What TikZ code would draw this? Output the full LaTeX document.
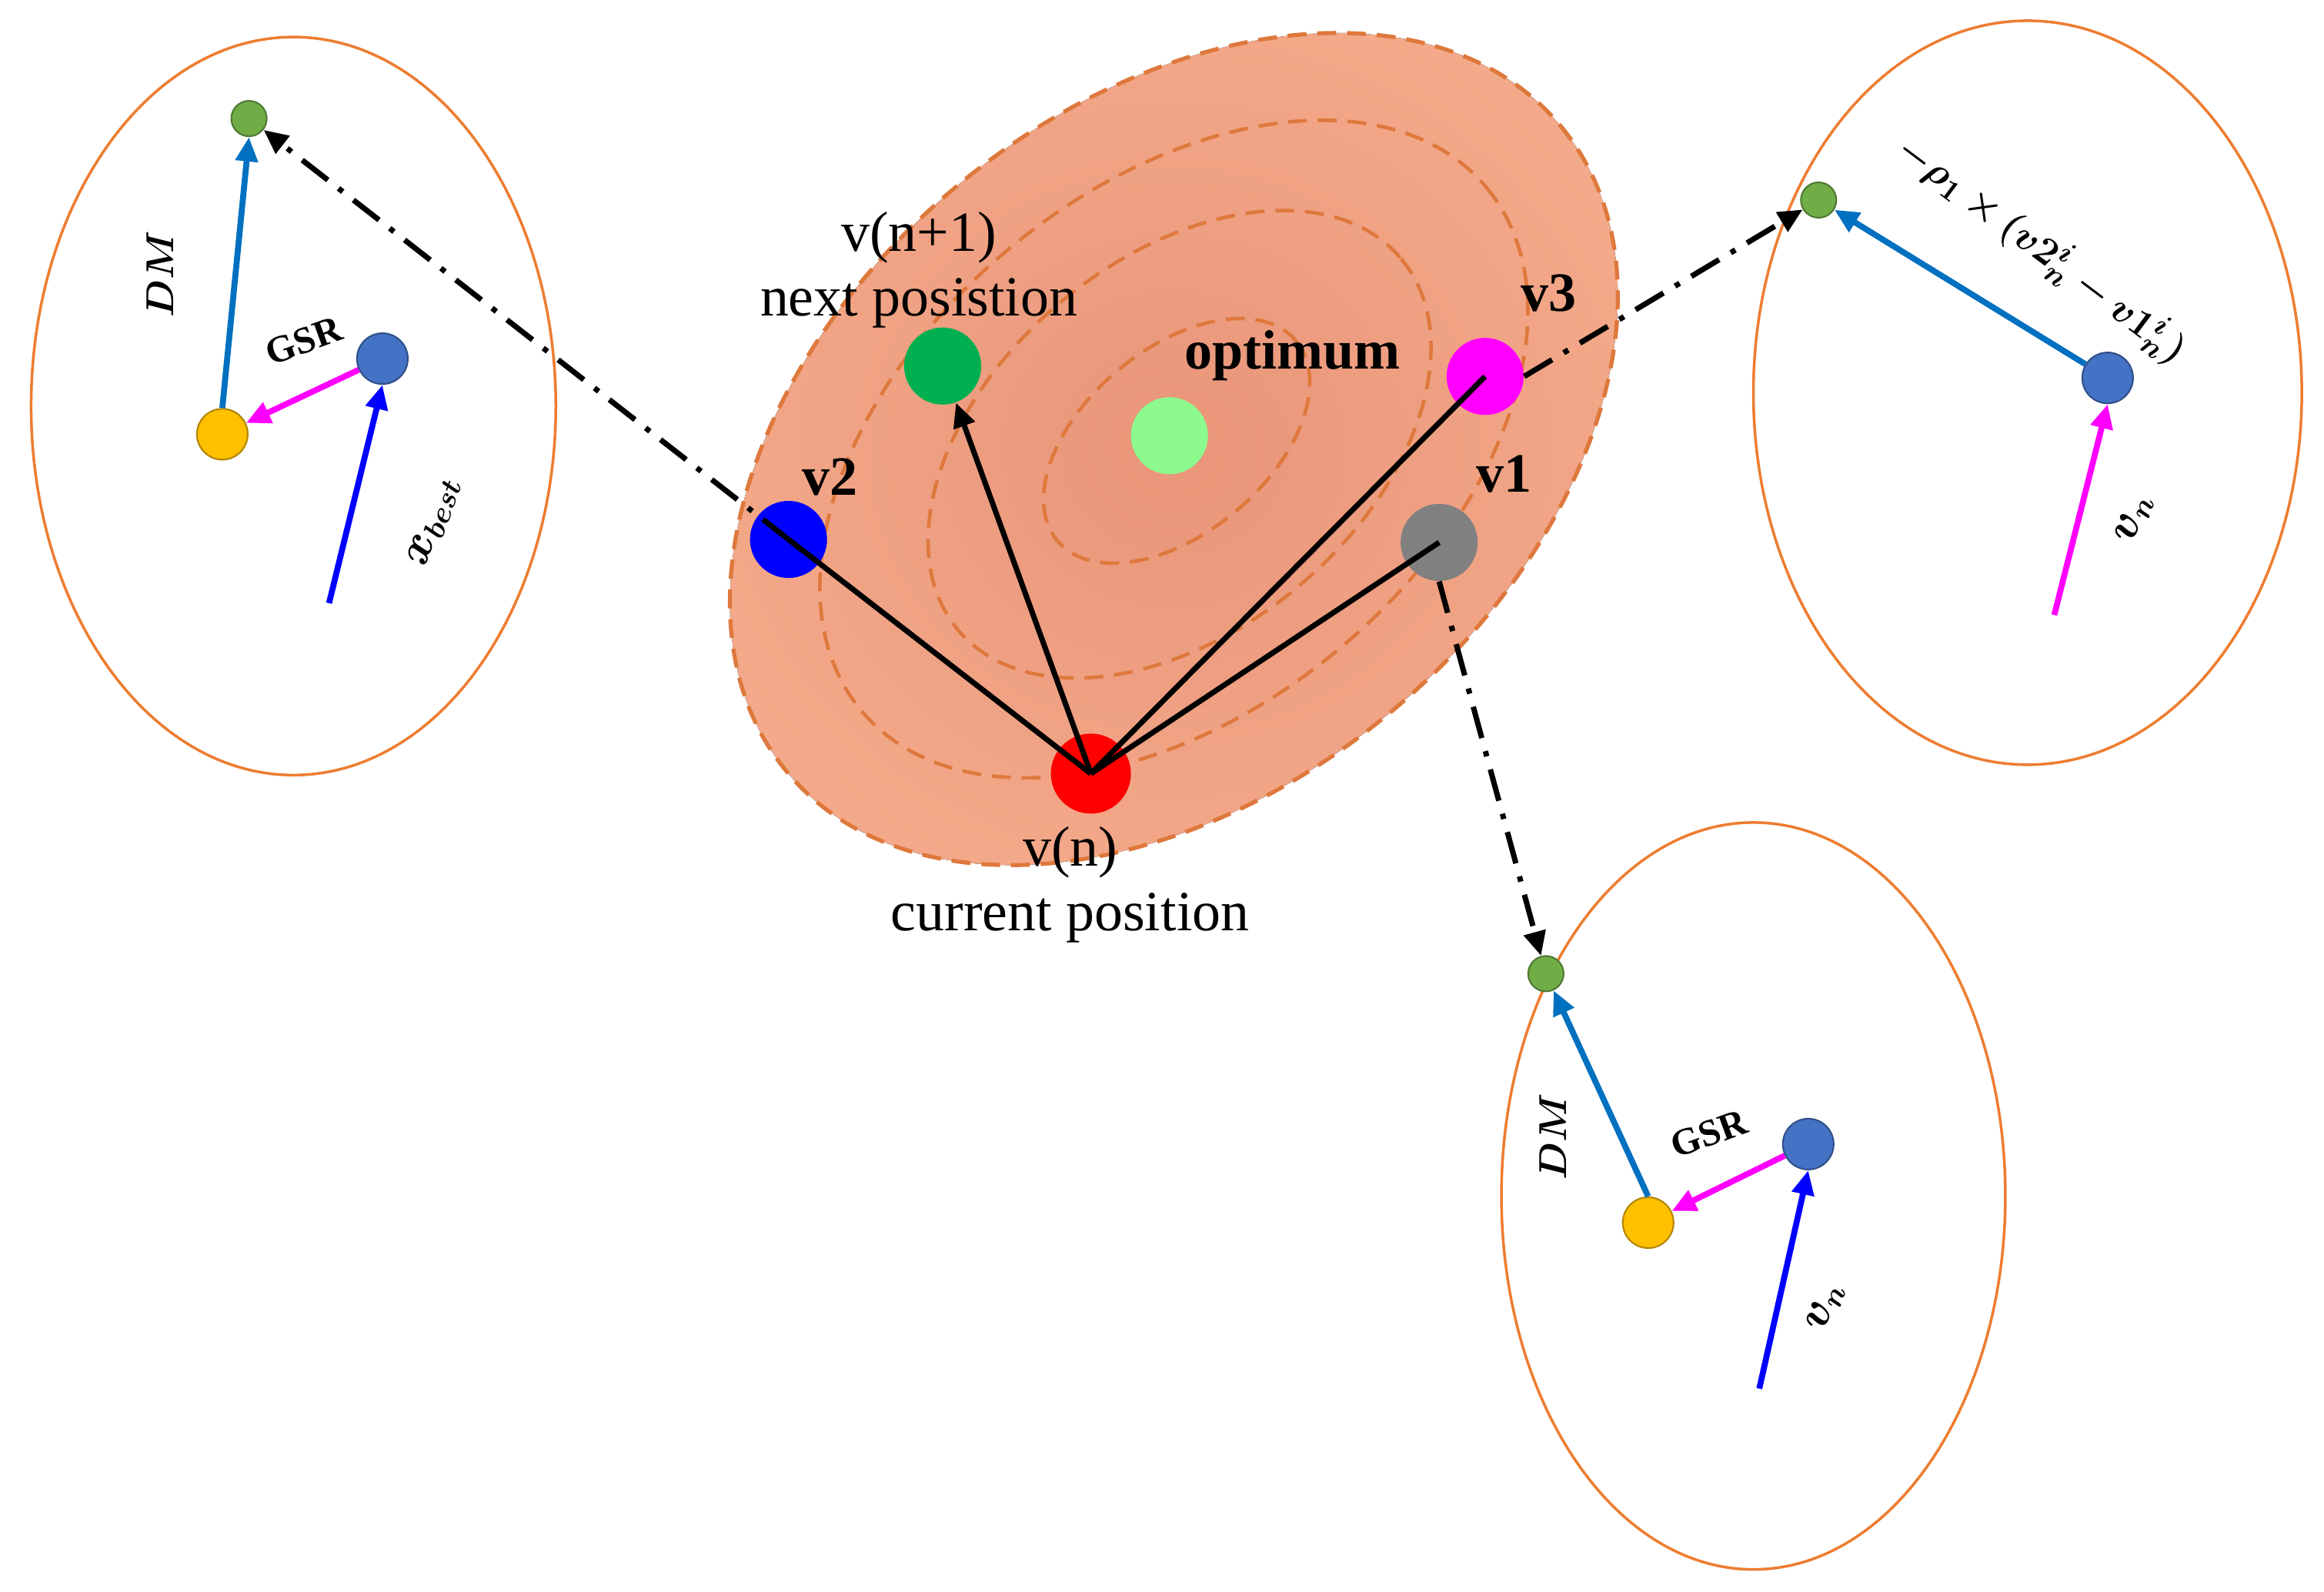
\documentclass[tikz,border=0pt]{standalone}
\usepackage{amsmath,bm}
\usepackage{fontspec}
\setmainfont{Liberation Serif}
\usetikzlibrary{arrows.meta}
\begin{document}
\begin{tikzpicture}[x=0.01926cm,y=-0.01926cm,
  dot/.style={circle,inner sep=0pt,minimum size=#1*0.03852cm},
  sm/.style={circle,inner sep=0pt,draw=#1!70!black,fill=#1,line width=0.6pt},
  lab/.style={font=\fontsize{21}{24}\selectfont},
  blab/.style={font=\fontsize{20.5}{24}\selectfont\bfseries},
  slab/.style={font=\fontsize{14}{16}\selectfont\bfseries},
  orng/.style={draw={rgb,255:red,237;green,125;blue,49},line width=1pt},
  dd/.style={line width=2pt,dash pattern=on 12pt off 5pt on 2pt off 5pt,-{Triangle[length=9pt,width=8pt]}},
  ar/.style={line width=2.2pt,-{Triangle[length=9pt,width=8pt]}}]
\useasboundingbox (0,0) rectangle (1568,1074);
\definecolor{sal}{RGB}{244,170,138}
\definecolor{dor}{RGB}{222,120,60}
\definecolor{gsm}{RGB}{112,173,71}
\definecolor{bsm}{RGB}{68,114,196}
\definecolor{ysm}{RGB}{255,192,0}
\definecolor{teal}{RGB}{0,112,192}
\definecolor{mag}{RGB}{255,0,255}
% big ellipse
\begin{scope}[shift={(792,303)},rotate=40]
\fill[inner color=sal!92!red!95!black,outer color=sal] (0,0) ellipse (340 and 230);
\draw[dor,line width=1.5pt,dash pattern=on 7pt off 4pt] (0,0) ellipse (340 and 230);
\draw[dor,line width=1.3pt,dash pattern=on 7pt off 4pt] (0,0) ellipse (275 and 175);
\draw[dor,line width=1.3pt,dash pattern=on 7pt off 4pt] (5,0) ellipse (195 and 125);
\draw[dor,line width=1.3pt,dash pattern=on 7pt off 4pt] (5,-3) ellipse (105 and 62);
\end{scope}
% outer ellipses
\draw[orng] (198,274) ellipse (177 and 249);
\draw[orng] (1368,265) ellipse (185 and 251);
\draw[orng] (1183,807) ellipse (170 and 252);
% main nodes
\node[dot=26,fill={rgb,255:red,0;green,176;blue,80}] (nx) at (636,247) {};
\node[dot=26,fill={rgb,255:red,140;green,250;blue,140}] (op) at (789,294) {};
\node[dot=26,fill=mag] (v3) at (1002,254) {};
\node[dot=26,fill=blue] (v2) at (532,364) {};
\node[dot=26,fill={rgb,255:red,128;green,128;blue,128}] (v1) at (971,366) {};
\node[dot=27,fill=red] (cu) at (736,522) {};
\draw[line width=2pt] (cu.center) -- (v2.center);
\draw[line width=2pt] (cu.center) -- (v3.center);
\draw[line width=2pt] (cu.center) -- (v1.center);
\draw[line width=2pt,-{Triangle[length=9pt,width=8pt]}] (cu.center) -- (nx);
\node[lab,align=center] (tnx) at (620,182) {v(n+1)\\next posistion};
\node[blab] (top) at (872,240) {optimum};
\node[blab] (tv3) at (1045,198) {v3};
\node[blab] (tv2) at (560,322) {v2};
\node[blab] (tv1) at (1015,320) {v1};
\node[lab,align=center] (tcu) at (722,597) {v(n)\\current position};
% left ellipse
\node[sm=gsm,minimum size=0.46cm] (lg) at (168,80) {};
\node[sm=ysm,minimum size=0.66cm] (ly) at (150,293) {};
\node[sm=bsm,minimum size=0.66cm] (lb) at (258,242) {};
\coordinate (ls) at (222,407);
\draw[ar,teal] (ly.north) -- (lg.south);
\draw[ar,mag] (lb) -- (ly);
\draw[ar,blue] (ls) -- (lb.south);
\node[slab,rotate=90] at (108,185) {$\bm{DM}$};
\node[slab,rotate=20] at (205,230) {GSR};
\node[slab,rotate=70,font=\fontsize{16}{18}\selectfont] at (293,352) {$\bm{x_{best}}$};
% right ellipse
\node[sm=gsm,minimum size=0.46cm] (rg) at (1227,135) {};
\node[sm=bsm,minimum size=0.66cm] (rb) at (1422,255) {};
\coordinate (rs) at (1386,415);
\draw[ar,teal] (rb) -- (rg);
\draw[ar,mag] (rs) -- (rb.south);
\node[rotate=-37,font=\fontsize{15}{17}\selectfont] at (1378,168) {$\bm{-\rho_1\times(v2_n^i-v1_n^i)}$};
\node[rotate=70,font=\fontsize{16}{18}\selectfont] at (1440,350) {$\bm{v_n}$};
% bottom ellipse
\node[sm=gsm,minimum size=0.46cm] (bg) at (1043,657) {};
\node[sm=ysm,minimum size=0.66cm] (by) at (1112,825) {};
\node[sm=bsm,minimum size=0.66cm] (bb) at (1220,772) {};
\coordinate (bs) at (1187,937);
\draw[ar,teal] (by.north) -- (bg);
\draw[ar,mag] (bb) -- (by);
\draw[ar,blue] (bs) -- (bb.south);
\node[slab,rotate=90] at (1048,767) {$\bm{DM}$};
\node[slab,rotate=20] at (1153,765) {GSR};
\node[rotate=70,font=\fontsize{16}{18}\selectfont] at (1232,882) {$\bm{v_n}$};
% dash-dot connectors
\draw[dd] (v2.center) -- (lg);
\draw[dd] (v3.east) -- (rg);
\draw[dd] (v1.south) -- (bg);
\end{tikzpicture}
\end{document}
